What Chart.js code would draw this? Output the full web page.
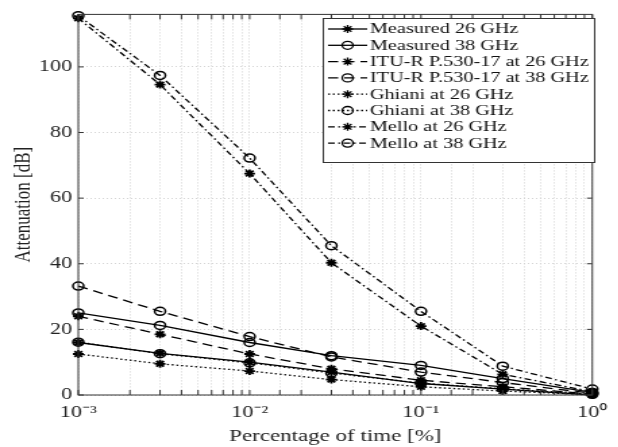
<!DOCTYPE html>
<html>
<head>
<meta charset="utf-8">
<script src="https://cdn.jsdelivr.net/npm/chart.js@4/dist/chart.umd.min.js"></script>
<style>
  html, body { margin: 0; padding: 0; background: #fff; overflow: hidden; }
  /* the original figure is stretched sideways, so the canvas is too */
  #wrap { width: 458px; height: 447px; transform: scaleX(1.35); transform-origin: 0 0; }
</style>
</head>
<body>
<div id="wrap"><canvas id="chart" width="458" height="447"></canvas></div>
<script>
// === Data ===
const percentTime = [0.001, 0.003, 0.01, 0.03, 0.1, 0.3, 1];

const measured26 = [16, 12.7, 10, 7, 3.5, 1.8, 0];
const measured38 = [25, 21.2, 16, 12, 9, 5, 0.8];
const itu26 = [24, 18.5, 12.5, 8, 4.5, 2.5, 0.3];
const itu38 = [33.2, 25.5, 17.8, 11.6, 7, 3.8, 0.5];
const ghiani26 = [12.5, 9.5, 7.3, 4.7, 2.5, 1.2, 0.1];
const ghiani38 = [16.1, 12.6, 9.8, 6.7, 3.6, 1.9, 0.2];
const mello26 = [114.8, 94.6, 67.5, 40.3, 21, 6.3, 1];
const mello38 = [115.6, 97.4, 72.2, 45.5, 25.5, 8.8, 1.8];

const yTicks = [0, 20, 40, 60, 80, 100];
const xDecades = [0.001, 0.01, 0.1, 1];
const xTickLabels = ['10⁻³', '10⁻²', '10⁻¹', '10⁰'];

const FONT = "'Liberation Serif', 'Times New Roman', serif";
const DASHED = [7.5, 4.5];
const DOTTED = [1.5, 2];
const DASHDOT = [5, 2.5, 1.5, 2.5];

function series(label, values, dash, marker) {
  return {
    label,
    data: percentTime.map((x, i) => ({ x, y: values[i] })),
    borderColor: '#000',
    borderWidth: 1.3,
    borderDash: dash,
    pointStyle: marker,
    pointRadius: 4,
    pointBorderWidth: marker === 'star' ? 1.8 : 1.5,
    pointBorderColor: '#000',
    pointBackgroundColor: marker === 'circle' ? 'rgba(0,0,0,0)' : '#000',
    fill: false,
    clip: false,
    tension: 0
  };
}

// === Frame with inward ticks on all four sides ===
const frameTicks = {
  id: 'frameTicks',
  afterDatasetsDraw(chart) {
    const { ctx, chartArea: a, scales } = chart;
    ctx.save();
    ctx.strokeStyle = '#333';
    ctx.lineWidth = 1;
    ctx.setLineDash([]);
    ctx.strokeRect(a.left, a.top, a.right - a.left, a.bottom - a.top);
    ctx.beginPath();
    scales.x.ticks.forEach(t => {
      const px = scales.x.getPixelForValue(t.value);
      ctx.moveTo(px, a.bottom); ctx.lineTo(px, a.bottom - 5);
      ctx.moveTo(px, a.top); ctx.lineTo(px, a.top + 5);
    });
    scales.y.ticks.forEach(t => {
      const py = scales.y.getPixelForValue(t.value);
      ctx.moveTo(a.left, py); ctx.lineTo(a.left + 4, py);
      ctx.moveTo(a.right, py); ctx.lineTo(a.right - 4, py);
    });
    ctx.stroke();
    ctx.restore();
  }
};

// === Legend box (line sample with marker in the middle) ===
const legendBox = {
  id: 'legendBox',
  afterDraw(chart) {
    const ctx = chart.ctx;
    const x0 = 239, y0 = 18, w = 201, h = 144, row = 16.3;
    ctx.save();
    ctx.fillStyle = '#fff';
    ctx.fillRect(x0, y0, w, h);
    ctx.strokeStyle = '#333';
    ctx.lineWidth = 1;
    ctx.setLineDash([]);
    ctx.strokeRect(x0 + 0.5, y0 + 0.5, w, h);
    ctx.font = `15px ${FONT}`;
    ctx.textBaseline = 'middle';
    chart.data.datasets.forEach((ds, i) => {
      const yy = y0 + 11 + i * row;
      ctx.strokeStyle = '#000';
      ctx.lineWidth = ds.borderWidth;
      ctx.setLineDash(ds.borderDash || []);
      ctx.beginPath();
      ctx.moveTo(x0 + 4, yy);
      ctx.lineTo(x0 + 33, yy);
      ctx.stroke();
      ctx.setLineDash([]);
      ctx.fillStyle = ds.pointBackgroundColor;
      Chart.helpers.drawPoint(ctx, {
        pointStyle: ds.pointStyle,
        radius: ds.pointRadius,
        borderWidth: ds.pointBorderWidth,
        rotation: 0
      }, x0 + 18.5, yy);
      ctx.fillStyle = '#111';
      ctx.fillText(ds.label, x0 + 35, yy + 0.5);
    });
    ctx.restore();
  }
};

new Chart(document.getElementById('chart'), {
  type: 'line',
  data: {
    datasets: [
      series('Measured 26 GHz', measured26, [], 'star'),
      series('Measured 38 GHz', measured38, [], 'circle'),
      series('ITU-R P.530-17 at 26 GHz', itu26, DASHED, 'star'),
      series('ITU-R P.530-17 at 38 GHz', itu38, DASHED, 'circle'),
      series('Ghiani at 26 GHz', ghiani26, DOTTED, 'star'),
      series('Ghiani at 38 GHz', ghiani38, DOTTED, 'circle'),
      series('Mello at 26 GHz', mello26, DASHDOT, 'star'),
      series('Mello at 38 GHz', mello38, DASHDOT, 'circle')
    ]
  },
  options: {
    responsive: false,
    animation: false,
    layout: { padding: { top: 10, right: 10, left: 0, bottom: 0 } },
    plugins: { legend: { display: false }, tooltip: { enabled: false } },
    scales: {
      x: {
        type: 'logarithmic',
        min: 0.001,
        max: 1,
        afterFit: s => { s.height = 52; },
        grid: { color: '#d4d4d4', lineWidth: 1, drawTicks: false },
        border: { display: false, dash: [1, 2] },
        ticks: {
          autoSkip: false,
          maxRotation: 0,
          padding: 8,
          color: '#222',
          font: { family: FONT, size: 16.5 },
          callback: v => {
            const i = xDecades.findIndex(d => Math.abs(d - v) < d * 1e-6);
            return i >= 0 ? xTickLabels[i] : '';
          }
        },
        title: {
          display: true,
          text: 'Percentage of time [%]',
          color: '#222',
          font: { family: FONT, size: 17 },
          padding: { top: 0, bottom: 0 }
        }
      },
      y: {
        min: 0,
        max: 116,
        afterFit: s => { s.width = 58; },
        afterBuildTicks: s => { s.ticks = yTicks.map(v => ({ value: v })); },
        grid: { color: '#d4d4d4', lineWidth: 1, drawTicks: false },
        border: { display: false, dash: [1, 2] },
        ticks: {
          padding: 4.5,
          color: '#222',
          font: { family: FONT, size: 16.5 }
        },
        title: {
          display: true,
          text: 'Attenuation [dB]',
          color: '#222',
          font: { family: FONT, size: 17 },
          padding: { top: 7, bottom: 0 }
        }
      }
    }
  },
  plugins: [frameTicks, legendBox]
});
</script>
</body>
</html>
